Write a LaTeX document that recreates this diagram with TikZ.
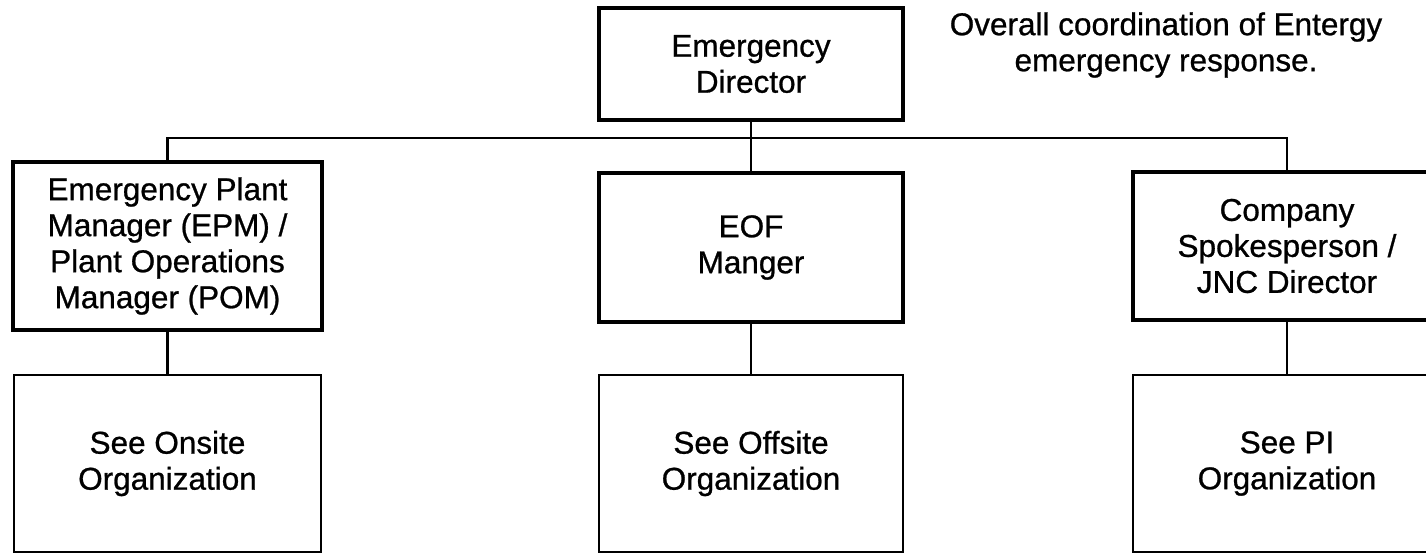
\documentclass[tikz,border=0pt]{standalone}
\usepackage{fontspec}
\setmainfont{Liberation Sans}[FakeBold=0.8]
\begin{document}
\begin{tikzpicture}[x=1pt,y=-1pt,
  topbox/.style={draw, line width=3.5pt, inner sep=0pt, align=center},
  lowbox/.style={draw, line width=2.5pt, inner sep=0pt, align=center},
  conn/.style={line width=2.2pt},
  every node/.style={font=\fontsize{31.5}{36}\selectfont}]
\useasboundingbox (0,0) rectangle (1426,554);
\clip (0,0) rectangle (1426,554);
\node[topbox, minimum width=304pt, minimum height=112pt] (ED) at (751,64) {Emergency\\Director};
\node[align=center, inner sep=0pt] (note) at (1166,45) {Overall coordination of Entergy\\emergency response.};
\node[topbox, minimum width=309pt, minimum height=168pt] (EPM) at (167.5,246) {Emergency Plant\\Manager (EPM) /\\Plant Operations\\Manager (POM)};
\node[topbox, minimum width=304pt, minimum height=149pt] (EOF) at (751,247.5) {EOF\\Manger};
\node[topbox, minimum width=308pt, minimum height=148pt] (CS) at (1287,246) {Company\\Spokesperson /\\JNC Director};
\node[lowbox, minimum width=307pt, minimum height=177pt] (LO) at (167.5,463.5) {See Onsite\\Organization};
\node[lowbox, minimum width=304pt, minimum height=177pt] (LM) at (751,463.5) {See Offsite\\Organization};
\node[lowbox, minimum width=308pt, minimum height=177pt] (LR) at (1287,463.5) {See PI\\Organization};
\coordinate (bar) at (751,138);
\draw[conn] (ED.south) -- (EOF.north);
\draw[conn] (EPM.north) |- (bar) -| (CS.north);
\draw[conn] (EPM.south) -- (LO.north);
\draw[conn] (EOF.south) -- (LM.north);
\draw[conn] (CS.south) -- (LR.north);
\end{tikzpicture}
\end{document}
